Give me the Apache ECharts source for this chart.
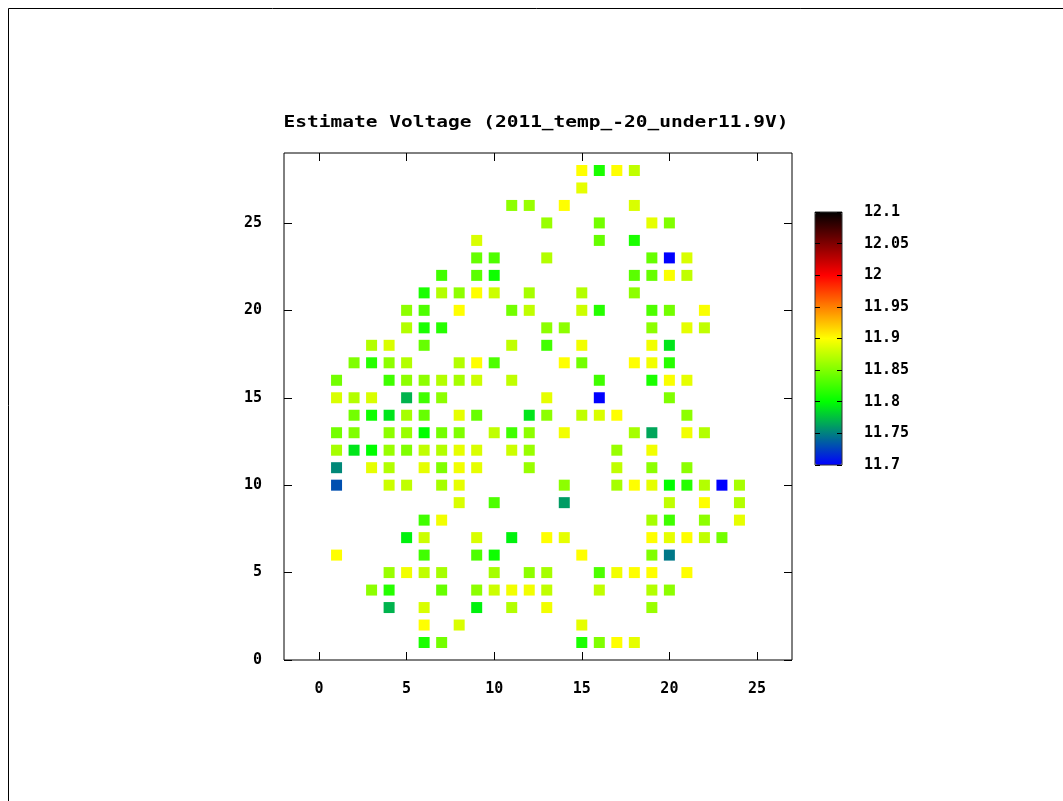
<!DOCTYPE html>
<html>
<head>
<meta charset="utf-8">
<script src="https://cdn.jsdelivr.net/npm/echarts@6/dist/echarts.min.js"></script>
<style>
  html, body { margin: 0; padding: 0; background: #fff; overflow: hidden; }
  #chart { width: 1063px; height: 801px; }
</style>
</head>
<body>
<div id="chart"></div>
<script>
// Axis ticks
const xTicks = [0, 5, 10, 15, 20, 25];
const yTicks = [0, 5, 10, 15, 20, 25];
const barTicks = [11.7, 11.75, 11.8, 11.85, 11.9, 11.95, 12, 12.05, 12.1];

// Palette: blue -> green -> yellow -> red -> black over 11.7 .. 12.1 V
const palette = ['#0000ff', '#008080', '#00ff00', '#80ff00', '#ffff00', '#ff8000', '#ff0000', '#800000', '#000000'];

// Cells, row by row: y of the row, x of each cell, estimated voltage of each cell
const rowY = [28, 27, 26, 25, 24, 23, 22, 21, 20, 19, 18, 17, 16, 15, 14, 13, 12, 11, 10, 9, 8, 7, 6, 5, 4, 3, 2, 1];
const rowCols = [
  [15, 16, 17, 18],
  [15],
  [11, 12, 14, 18],
  [13, 16, 19, 20],
  [9, 16, 18],
  [9, 10, 13, 19, 20, 21],
  [7, 9, 10, 18, 19, 20, 21],
  [6, 7, 8, 9, 10, 12, 15, 18],
  [5, 6, 8, 11, 12, 15, 16, 19, 20, 22],
  [5, 6, 7, 13, 14, 19, 21, 22],
  [3, 4, 6, 11, 13, 15, 19, 20],
  [2, 3, 4, 5, 8, 9, 10, 14, 15, 18, 19, 20],
  [1, 4, 5, 6, 7, 8, 9, 11, 16, 19, 20, 21],
  [1, 2, 3, 5, 6, 7, 13, 16, 20],
  [2, 3, 4, 5, 6, 8, 9, 12, 13, 15, 16, 17, 21],
  [1, 2, 4, 5, 6, 7, 8, 10, 11, 12, 14, 18, 19, 21, 22],
  [1, 2, 3, 4, 5, 6, 7, 8, 9, 11, 12, 17, 19],
  [1, 3, 4, 6, 7, 8, 9, 12, 17, 19, 21],
  [1, 4, 5, 7, 8, 14, 17, 18, 19, 20, 21, 22, 23, 24],
  [8, 10, 14, 20, 22, 24],
  [6, 7, 19, 20, 22, 24],
  [5, 6, 9, 11, 13, 14, 19, 20, 21, 22, 23],
  [1, 6, 9, 10, 15, 19, 20],
  [4, 5, 6, 7, 10, 12, 13, 16, 17, 18, 19, 21],
  [3, 4, 7, 9, 10, 11, 12, 13, 16, 19, 20],
  [4, 6, 9, 11, 13, 19],
  [6, 8, 15],
  [6, 7, 15, 16, 17, 18]
];
const rowVolts = [
  [11.9, 11.81, 11.9, 11.875],
  [11.89],
  [11.855, 11.86, 11.9, 11.885],
  [11.86, 11.845, 11.89, 11.85],
  [11.885, 11.84, 11.81],
  [11.84, 11.83, 11.87, 11.84, 11.7, 11.885],
  [11.825, 11.835, 11.805, 11.835, 11.84, 11.898, 11.875],
  [11.81, 11.87, 11.855, 11.9, 11.88, 11.865, 11.87, 11.855],
  [11.855, 11.83, 11.9, 11.845, 11.875, 11.88, 11.815, 11.83, 11.845, 11.898],
  [11.87, 11.81, 11.815, 11.855, 11.855, 11.855, 11.89, 11.875],
  [11.87, 11.885, 11.84, 11.875, 11.825, 11.895, 11.895, 11.79],
  [11.85, 11.815, 11.855, 11.87, 11.87, 11.9, 11.83, 11.9, 11.845, 11.9, 11.895, 11.815],
  [11.845, 11.825, 11.855, 11.855, 11.87, 11.865, 11.88, 11.875, 11.825, 11.81, 11.898, 11.89],
  [11.885, 11.87, 11.885, 11.77, 11.825, 11.855, 11.89, 11.7, 11.85],
  [11.845, 11.805, 11.79, 11.865, 11.84, 11.89, 11.84, 11.79, 11.855, 11.875, 11.885, 11.9, 11.855],
  [11.845, 11.85, 11.855, 11.86, 11.8, 11.845, 11.85, 11.875, 11.825, 11.855, 11.895, 11.865, 11.765, 11.895, 11.87],
  [11.865, 11.79, 11.8, 11.86, 11.85, 11.875, 11.87, 11.89, 11.885, 11.88, 11.86, 11.86, 11.895],
  [11.753, 11.89, 11.87, 11.89, 11.85, 11.895, 11.89, 11.86, 11.875, 11.855, 11.855],
  [11.731, 11.88, 11.875, 11.865, 11.89, 11.855, 11.865, 11.9, 11.89, 11.8, 11.815, 11.87, 11.7, 11.865],
  [11.885, 11.83, 11.761, 11.875, 11.9, 11.87],
  [11.825, 11.895, 11.865, 11.825, 11.855, 11.89],
  [11.795, 11.88, 11.885, 11.795, 11.9, 11.89, 11.9, 11.89, 11.9, 11.875, 11.845],
  [11.9, 11.825, 11.83, 11.805, 11.9, 11.85, 11.747],
  [11.86, 11.895, 11.875, 11.865, 11.865, 11.855, 11.865, 11.83, 11.895, 11.9, 11.9, 11.9],
  [11.855, 11.815, 11.84, 11.855, 11.88, 11.895, 11.895, 11.875, 11.875, 11.87, 11.855],
  [11.77, 11.885, 11.795, 11.87, 11.895, 11.86],
  [11.9, 11.885, 11.89],
  [11.81, 11.845, 11.81, 11.85, 11.9, 11.89]
];

const cells = [];
rowY.forEach(function (y, r) {
  rowCols[r].forEach(function (x, k) {
    cells.push([x, y, rowVolts[r][k]]);
  });
});

const FONT = '"DejaVu Sans Mono", monospace';
const labelStyle = { color: '#000', fontFamily: FONT, fontWeight: 'bold', fontSize: 15 };
const hiddenLine = { show: false, onZero: false };

function frameTick(values, len) {
  return { show: true, inside: true, length: len, customValues: values, lineStyle: { color: '#000', width: 1 } };
}

const chart = echarts.init(document.getElementById('chart'), null, { renderer: 'canvas' });

chart.setOption({
  animation: false,
  backgroundColor: '#fff',
  graphic: [
    {
      type: 'rect',
      shape: { x: 8.5, y: 8.5, width: 2000, height: 2000 },
      style: { fill: 'none', stroke: '#000', lineWidth: 1 },
      silent: true
    },
    {
      type: 'text',
      x: 536,
      y: 123,
      scaleX: 1.3,
      style: {
        text: 'Estimate Voltage (2011_temp_-20_under11.9V)',
        textAlign: 'center',
        textVerticalAlign: 'middle',
        font: 'bold 15px ' + FONT,
        fill: '#000'
      },
      silent: true
    }
  ],
  grid: [
    { left: 284, top: 153, width: 508, height: 507, show: true, borderColor: '#000', borderWidth: 1, backgroundColor: 'transparent' },
    { left: 815, top: 212, width: 27, height: 253, show: true, borderColor: '#333', borderWidth: 1, backgroundColor: 'transparent', z: 10 }
  ],
  xAxis: [
    {
      type: 'value', gridIndex: 0, position: 'bottom', min: -2, max: 27,
      axisLine: hiddenLine,
      axisTick: frameTick(xTicks, 8),
      axisLabel: Object.assign({ customValues: xTicks, margin: 22 }, labelStyle),
      splitLine: { show: false }
    },
    {
      type: 'value', gridIndex: 0, position: 'top', min: -2, max: 27,
      axisLine: hiddenLine,
      axisTick: frameTick(xTicks, 8),
      axisLabel: { show: false },
      splitLine: { show: false }
    },
    {
      type: 'value', gridIndex: 1, min: 0, max: 1, show: false,
      axisLine: hiddenLine
    }
  ],
  yAxis: [
    {
      type: 'value', gridIndex: 0, position: 'left', min: 0, max: 29,
      axisLine: hiddenLine,
      axisTick: frameTick(yTicks, 8),
      axisLabel: Object.assign({ customValues: yTicks, margin: 22 }, labelStyle),
      splitLine: { show: false }
    },
    {
      type: 'value', gridIndex: 0, position: 'right', min: 0, max: 29,
      axisLine: hiddenLine,
      axisTick: frameTick(yTicks, 8),
      axisLabel: { show: false },
      splitLine: { show: false }
    },
    {
      type: 'value', gridIndex: 1, position: 'right', min: 11.7, max: 12.1, z: 10,
      axisLine: hiddenLine,
      axisTick: frameTick(barTicks, 5),
      axisLabel: Object.assign({ customValues: barTicks, margin: 22, formatter: function (v) { return String(+v.toFixed(2)); } }, labelStyle),
      splitLine: { show: false }
    },
    {
      type: 'value', gridIndex: 1, position: 'left', min: 11.7, max: 12.1, z: 10,
      axisLine: hiddenLine,
      axisTick: frameTick(barTicks, 5),
      axisLabel: { show: false },
      splitLine: { show: false }
    }
  ],
  visualMap: {
    type: 'continuous',
    min: 11.7,
    max: 12.1,
    dimension: 2,
    seriesIndex: 0,
    calculable: false,
    hoverLink: false,
    orient: 'vertical',
    left: 815,
    top: 212,
    itemWidth: 27,
    itemHeight: 253,
    padding: 0,
    text: null,
    showLabel: false,
    inRange: { color: palette }
  },
  series: [
    {
      type: 'scatter',
      xAxisIndex: 0,
      yAxisIndex: 0,
      symbol: 'rect',
      symbolSize: 11,
      data: cells,
      itemStyle: { opacity: 1 },
      silent: true
    }
  ]
});
</script>
</body>
</html>
